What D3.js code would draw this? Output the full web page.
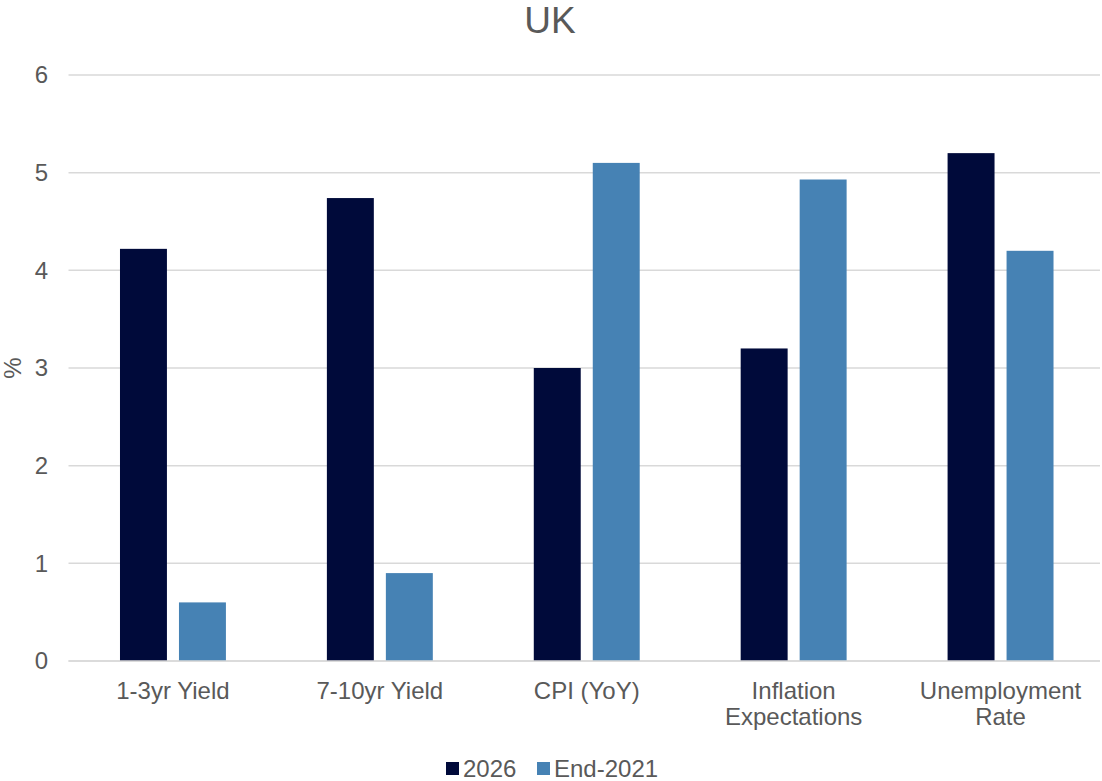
<!DOCTYPE html>
<html><head><meta charset="utf-8">
<script src="https://cdn.jsdelivr.net/npm/d3@7"></script>
<style>body{margin:0;background:#fff;} text{font-family:"Liberation Sans",Arial,sans-serif;fill:#595959;}</style>
</head><body>
<svg id="c" width="1102" height="781"></svg>
<script>
const categories = [["1-3yr Yield"],["7-10yr Yield"],["CPI (YoY)"],["Inflation","Expectations"],["Unemployment","Rate"]];
const seriesNames = ["2026","End-2021"];
const values2026 = [4.22, 4.74, 3.0, 3.2, 5.2];
const valuesEnd2021 = [0.6, 0.9, 5.1, 4.93, 4.2];
const yTicks = [0,1,2,3,4,5,6];
const colors = ["#000a3a","#4682b4"];

const svg = d3.select("#c");
const catKeys = categories.map(c=>c.join(" "));
const x0 = d3.scaleBand().domain(catKeys).range([69.5,1104]).paddingInner(0.488).paddingOuter(0.244);
const x1 = d3.scaleBand().domain(seriesNames).range([0,x0.bandwidth()]).paddingInner(0.204);
const y = d3.scaleLinear().domain([0,6]).range([661,75]);
const color = d3.scaleOrdinal().domain(seriesNames).range(colors);

// gridlines
svg.append("g").selectAll("line").data(yTicks).join("line")
  .attr("x1",68.5).attr("x2",1100).attr("y1",d=>y(d)).attr("y2",d=>y(d))
  .attr("stroke","#d9d9d9").attr("stroke-width",1.5);
// y labels
svg.append("g").selectAll("text").data(yTicks).join("text")
  .attr("x",48).attr("y",d=>y(d)).attr("dy","0.35em").attr("text-anchor","end")
  .attr("font-size",24).text(d=>d);

const data = catKeys.map((k,i)=>({k, vals:[{s:seriesNames[0],v:values2026[i]},{s:seriesNames[1],v:valuesEnd2021[i]}]}));
const g = svg.append("g").selectAll("g").data(data).join("g").attr("transform",d=>`translate(${x0(d.k)},0)`);
g.selectAll("rect").data(d=>d.vals).join("rect")
  .attr("x",d=>x1(d.s)).attr("width",x1.bandwidth())
  .attr("y",d=>y(d.v)).attr("height",d=>y(0)-y(d.v)).attr("fill",d=>color(d.s));

// baseline
svg.append("line").attr("x1",68.5).attr("x2",1100).attr("y1",y(0)).attr("y2",y(0)).attr("stroke","#d9d9d9").attr("stroke-width",1.5);

// x labels
const xl = svg.append("g").selectAll("text").data(categories).join("text")
  .attr("x",(d,i)=>x0(catKeys[i])+x0.bandwidth()/2).attr("y",699).attr("text-anchor","middle").attr("font-size",24);
xl.selectAll("tspan").data(d=>d).join("tspan")
  .attr("x",function(){return d3.select(this.parentNode).attr("x");})
  .attr("dy",(d,i)=>i===0?0:26).text(d=>d);

// title
svg.append("text").attr("x",550).attr("y",33).attr("text-anchor","middle").attr("font-size",37).text("UK");
// y axis title
svg.append("text").attr("transform","translate(21,368) rotate(-90)").attr("text-anchor","middle").attr("font-size",24).text("%");

// legend
const legX = [446, 537];
const lg = svg.append("g").selectAll("g").data(seriesNames).join("g").attr("transform",(d,i)=>`translate(${legX[i]},762)`);
lg.append("rect").attr("x",0).attr("y",0).attr("width",13).attr("height",13).attr("fill",d=>color(d));
lg.append("text").attr("x",17).attr("y",15).attr("font-size",24).text(d=>d);
</script>
</body></html>
